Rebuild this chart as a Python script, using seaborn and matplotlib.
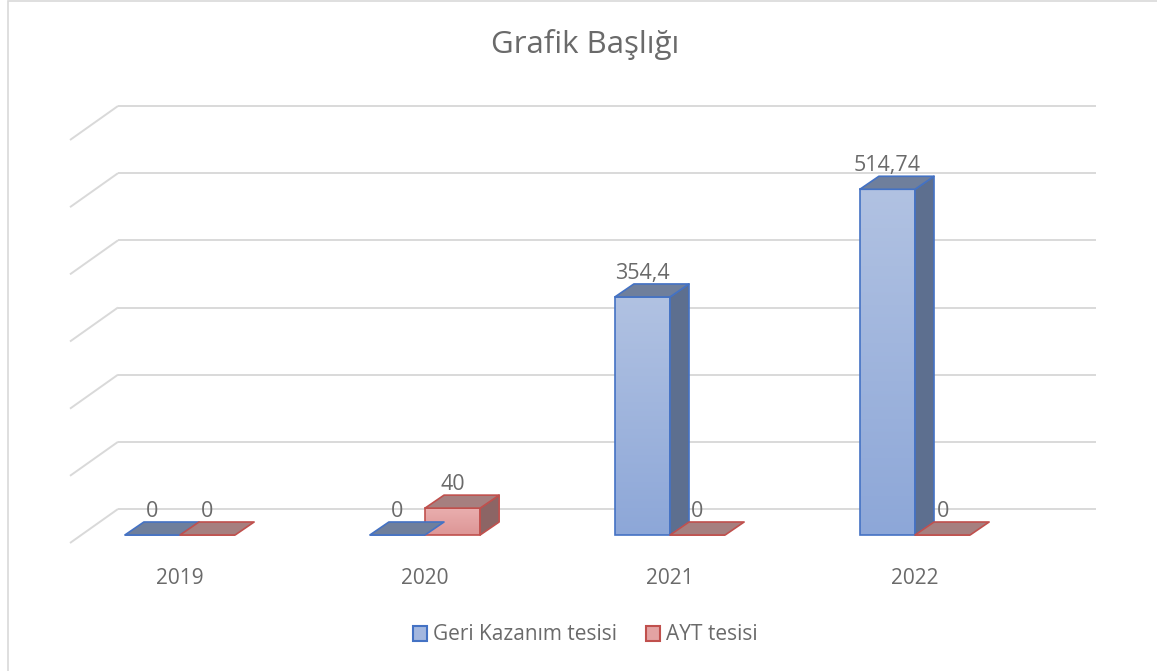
import numpy as np
import pandas as pd
import matplotlib
matplotlib.use("Agg")
import matplotlib.pyplot as plt
import seaborn as sns
from matplotlib.patches import Polygon, Patch, Rectangle
from matplotlib.colors import LinearSegmentedColormap

# ---------------- data ----------------
years = ["2019", "2020", "2021", "2022"]
geri_kazanim = [0, 0, 354.4, 514.74]
ayt = [0, 40, 0, 0]
series_names = ["Geri Kazanım tesisi", "AYT tesisi"]
grid_values = [0, 100, 200, 300, 400, 500, 600]
title = "Grafik Başlığı"

df = pd.DataFrame({
    "year": years * 2,
    "value": geri_kazanim + ayt,
    "series": [series_names[0]] * len(years) + [series_names[1]] * len(years),
})

# ---------------- style ----------------
sns.set_theme(style="white")
plt.rcParams["font.family"] = ["Open Sans", "DejaVu Sans"]
TXT = "#6a6a6a"
GRID = "#d9d9d9"

styles = {
    series_names[0]: dict(edge="#4472c4", top="#6f7f9c", side="#5d6f8f",
                          grad=("#8da7d8", "#b1c2e2"), legend="#a3b7df"),
    series_names[1]: dict(edge="#c0504d", top="#a67f7f", side="#8c6565",
                          grad=("#dd9696", "#e9aeae"), legend="#e3a3a3"),
}

W, H = 1157, 671
fig = plt.figure(figsize=(W / 100, H / 100), dpi=100)
fig.patch.set_facecolor("white")

# pixel geometry of the pseudo-3D frame
CX0, CAT = 180, 245          # px of first category centre, px per category
Y0, K = 535, 403 / 600       # px of value 0 (bar front plane), px per unit
L, R, T, B = 60, 1105, 90, 555
ax = fig.add_axes([L / W, 1 - B / H, (R - L) / W, (B - T) / H])


def px2x(px):
    return (px - CX0) / CAT


def py2v(py):
    return (Y0 - py) / K


dxb, dyb = 19 / CAT, 13 / K            # bar depth
wall_dx, wall_dy = 37 / CAT, 26 / K    # back wall offset
front_dx, front_dy = -11 / CAT, -8 / K  # floor front edge offset
x_left, x_right = px2x(81), px2x(1096)

# ---------------- walls / gridlines ----------------
for v in grid_values:
    ax.plot([x_left + front_dx, x_left + wall_dx], [v + front_dy, v + wall_dy],
            color=GRID, lw=1.4, zorder=1, solid_capstyle="butt")
    ax.plot([x_left + wall_dx, x_right], [v + wall_dy, v + wall_dy],
            color=GRID, lw=1.4, zorder=1, solid_capstyle="butt")

# ---------------- bars ----------------
sns.barplot(data=df, x="year", y="value", hue="series", order=years,
            hue_order=series_names,
            palette={s: styles[s]["legend"] for s in series_names},
            width=0.45, errorbar=None, legend=False, ax=ax, zorder=4)

grad = np.linspace(0, 1, 256).reshape(-1, 1)
for name, cont in zip(series_names, ax.containers):
    st = styles[name]
    cmap = LinearSegmentedColormap.from_list(name, list(st["grad"]))
    for rect in cont:
        x0 = rect.get_x()
        w = rect.get_width()
        h = rect.get_height()
        x1 = x0 + w
        rect.set_facecolor("none")
        rect.set_edgecolor(st["edge"])
        rect.set_linewidth(1.2)
        rect.set_zorder(4.2)
        if h > 0:
            im = ax.imshow(grad, extent=(x0, x1, 0, h), origin="lower",
                           aspect="auto", cmap=cmap, zorder=4.1)
            im.set_clip_path(rect)
            side = Polygon([(x1, 0), (x1 + dxb, dyb), (x1 + dxb, h + dyb), (x1, h)],
                           closed=True, facecolor=st["side"], edgecolor=st["edge"],
                           lw=1.2, zorder=4.2, joinstyle="round")
            ax.add_patch(side)
        top = Polygon([(x0, h), (x0 + dxb, h + dyb), (x1 + dxb, h + dyb), (x1, h)],
                      closed=True, facecolor=st["top"], edgecolor=st["edge"],
                      lw=1.2, zorder=4.2, joinstyle="round")
        ax.add_patch(top)
        lab = f"{h:g}".replace(".", ",")
        ax.text(x0 + w / 2, h + dyb + 5 / K, lab, ha="center", va="baseline",
                fontsize=15.5, color=TXT, zorder=6)

# ---------------- category labels ----------------
for i, y in enumerate(years):
    ax.text(i, py2v(578), y, ha="center", va="center", fontsize=15, color=TXT)

ax.set_xlim(px2x(L), px2x(R))
ax.set_ylim(py2v(B), py2v(T))
ax.set_axis_off()

# ---------------- title ----------------
fig.text(585 / W, 1 - 44 / H, title, ha="center", va="center",
         fontsize=22.5, color=TXT)

# ---------------- legend ----------------
handles = [Patch(facecolor=styles[s]["legend"], edgecolor=styles[s]["edge"], lw=1.5)
           for s in series_names]
leg = fig.legend(handles, series_names, loc="center", bbox_to_anchor=(585 / W, 1 - 635 / H),
                 ncol=2, frameon=False, fontsize=15, handlelength=0.7,
                 handleheight=0.7, handletextpad=0.25, columnspacing=1.4)
for t in leg.get_texts():
    t.set_color(TXT)

# ---------------- border ----------------
fig.patches.append(Rectangle((8 / W, -0.01), 1.02 - 8 / W, 1.01 - 1 / H,
                             transform=fig.transFigure, fill=False,
                             edgecolor="#d9d9d9", lw=1.2))

fig.savefig("out.png", dpi=100)
